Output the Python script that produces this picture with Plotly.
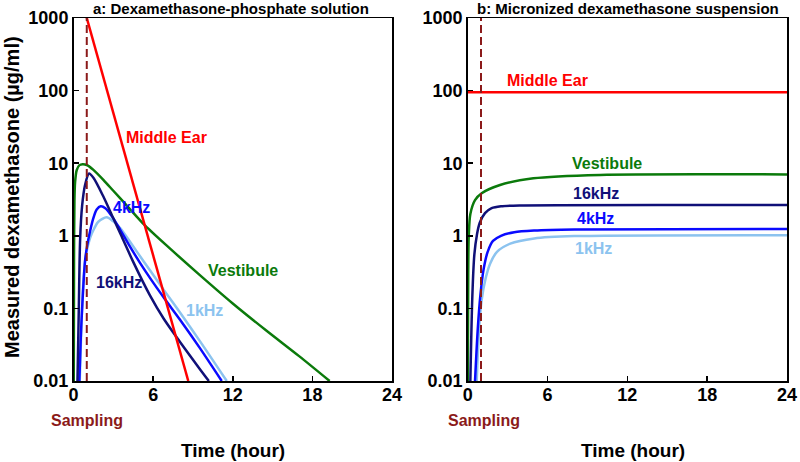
import plotly.graph_objects as go

# ---------------- data ----------------
# Panel a: Dexamethasone-phosphate solution
a_mid_t = [1.0, 8.65]
a_mid_v = [1000, 0.01]

a_ves_t = [0.02, 0.04, 0.07, 0.12, 0.24, 0.45, 0.69, 1.0, 1.5, 2.25, 3.0, 4.0, 5.4, 7.3, 9.5, 12.0, 14.5, 17.0, 19.3]
a_ves_v = [0.01, 0.5, 3.0, 5.5, 8.0, 9.4, 9.7, 9.45, 8.1, 5.9, 4.17, 2.63, 1.38, 0.66, 0.29, 0.117, 0.05, 0.022, 0.01]

a_16k_t = [0.3, 0.4, 0.5, 0.65, 0.87, 1.17, 1.5, 2.25, 3.0, 3.5, 4.5, 5.76, 6.8, 8.0, 9.5, 10.2]
a_16k_v = [0.01, 0.1, 0.9, 2.6, 5.0, 7.2, 6.3, 3.47, 1.74, 1.1, 0.437, 0.151, 0.072, 0.035, 0.0148, 0.01]

a_4k_t = [0.44, 0.55, 0.65, 0.87, 1.04, 1.24, 1.49, 1.75, 2.05, 2.4, 3.0, 3.5, 4.26, 5.0, 5.76, 6.8, 8.0, 9.5, 11.17]
a_4k_v = [0.01, 0.04, 0.1, 0.45, 0.75, 1.14, 1.74, 2.3, 2.55, 2.4, 1.74, 1.23, 0.71, 0.427, 0.263, 0.141, 0.0708, 0.0288, 0.01]

a_1k_t = [0.47, 0.6, 0.75, 0.94, 1.24, 1.55, 1.87, 2.5, 3.0, 3.5, 4.26, 4.76, 5.76, 6.8, 8.0, 9.5, 11.55]
a_1k_v = [0.01, 0.06, 0.25, 0.55, 0.92, 1.25, 1.56, 1.8, 1.58, 1.29, 0.83, 0.61, 0.335, 0.18, 0.089, 0.036, 0.01]

# Panel b: Micronized dexamethasone suspension
b_mid_t = [0.0, 24.0]
b_mid_v = [95, 95]

b_ves_t = [0.01, 0.04, 0.08, 0.2, 0.55, 1.05, 2.43, 4.94, 9.95, 24.0]
b_ves_v = [0.01, 0.3, 1.0, 2.0, 3.1, 3.85, 5.0, 6.2, 6.9, 7.0]

b_16k_t = [0.2, 0.35, 0.5, 0.7, 0.9, 1.3, 1.8, 2.5, 4.0, 24.0]
b_16k_v = [0.01, 0.15, 0.55, 1.05, 1.5, 2.05, 2.4, 2.55, 2.62, 2.65]

b_4k_t = [0.55, 0.75, 0.95, 1.2, 1.5, 1.9, 2.5, 3.5, 5.0, 8.0, 24.0]
b_4k_v = [0.01, 0.05, 0.15, 0.35, 0.6, 0.85, 1.0, 1.12, 1.18, 1.22, 1.24]

b_1k_t = [0.68, 0.85, 1.05, 1.35, 1.7, 2.2, 3.2, 5.0, 8.0, 24.0]
b_1k_v = [0.01, 0.05, 0.13, 0.26, 0.42, 0.6, 0.78, 0.92, 0.99, 1.02]

sampling_t = [1.0, 1.0]
sampling_v = [0.01, 1000]

x_ticks = [0, 6, 12, 18, 24]
y_ticks = [0.01, 0.1, 1, 10, 100, 1000]
y_ticktext = ["0.01", "0.1", "1", "10", "100", "1000"]

titles = ["a: Dexamethasone-phosphate solution", "b: Micronized dexamethasone suspension"]

# ---------------- styling ----------------
RED = "#ff0000"
GREEN = "#0b7a0b"
NAVY = "#101078"
BLUE = "#0a0aff"
LBLUE = "#8cc3ef"
MAROON = "#8b1a1a"
FONT = "Liberation Sans, Arial, sans-serif"

W, H = 800, 462

fig = go.Figure()


def add_line(t, v, color, ax, dash=None, width=2.5, spline=True):
    line = dict(color=color, width=width)
    if spline:
        line.update(shape="spline", smoothing=0.8)
    if dash:
        line["dash"] = dash
    fig.add_trace(go.Scatter(x=t, y=v, mode="lines", line=line, showlegend=False,
                             hoverinfo="skip",
                             xaxis="x" if ax == 1 else "x2",
                             yaxis="y" if ax == 1 else "y2"))


for ax, series in [
    (1, [(a_ves_t, a_ves_v, GREEN), (a_1k_t, a_1k_v, LBLUE), (a_4k_t, a_4k_v, BLUE),
         (a_16k_t, a_16k_v, NAVY)]),
    (2, [(b_ves_t, b_ves_v, GREEN), (b_1k_t, b_1k_v, LBLUE), (b_4k_t, b_4k_v, BLUE),
         (b_16k_t, b_16k_v, NAVY)]),
]:
    for t, v, c in series:
        add_line(t, v, c, ax)

add_line(a_mid_t, a_mid_v, RED, 1, spline=False)
add_line(b_mid_t, b_mid_v, RED, 2, spline=False)
add_line(sampling_t, sampling_v, MAROON, 1, dash="8px,4px", width=2, spline=False)
add_line(sampling_t, sampling_v, MAROON, 2, dash="8px,4px", width=2, spline=False)

# pixel geometry
y_top, y_bot = 18, 381
xa = (73.5, 392.0)
xb = (467.7, 787.0)


def px(x):
    return x / W


def py(y):
    return 1 - y / H


axis_common = dict(showline=True, mirror=True, linecolor="black", linewidth=1.5,
                   ticks="inside", ticklen=5, tickwidth=1.5, tickcolor="black",
                   showgrid=False, zeroline=False, automargin=False,
                   tickfont=dict(family=FONT, size=18, color="black", weight="bold"))

fig.update_layout(
    width=W, height=H,
    margin=dict(l=0, r=0, t=0, b=0, autoexpand=False),
    paper_bgcolor="white", plot_bgcolor="white",
    xaxis=dict(domain=[px(xa[0]), px(xa[1])], range=[0, 24], tickvals=x_ticks,
               anchor="y", ticklabelstandoff=-3, **axis_common),
    yaxis=dict(domain=[py(y_bot), py(y_top)], type="log", range=[-2, 3],
               tickvals=y_ticks, ticktext=y_ticktext, anchor="x", **axis_common),
    xaxis2=dict(domain=[px(xb[0]), px(xb[1])], range=[0, 24], tickvals=x_ticks,
                anchor="y2", ticklabelstandoff=-3, **axis_common),
    yaxis2=dict(domain=[py(y_bot), py(y_top)], type="log", range=[-2, 3],
                tickvals=y_ticks, ticktext=y_ticktext, anchor="x2", **axis_common),
)


def ann(text, x, y, size, color="black", angle=0):
    fig.add_annotation(text=text, x=px(x), y=py(y), xref="paper", yref="paper",
                       showarrow=False, xanchor="center", yanchor="middle",
                       textangle=angle,
                       font=dict(family=FONT, size=size, color=color, weight="bold"))


ann(titles[0], 231, 9, 15)
ann(titles[1], 627.5, 9, 15)
ann("Measured dexamethasone (µg/ml)", 12, 197, 20, angle=-90)
ann("Time (hour)", 232.5, 450, 19)
ann("Time (hour)", 633, 450, 19)
ann("Sampling", 87, 420, 16, MAROON)
ann("Sampling", 484, 420, 16, MAROON)

# in-plot series labels, panel a
ann("Middle Ear", 166, 137, 16, RED)
ann("4kHz", 131, 207, 16, BLUE)
ann("16kHz", 119, 282, 16, NAVY)
ann("1kHz", 204, 310, 16, LBLUE)
ann("Vestibule", 243, 270, 16, GREEN)
# panel b
ann("Middle Ear", 547, 80, 16, RED)
ann("Vestibule", 607, 163, 16, GREEN)
ann("16kHz", 596, 193, 16, NAVY)
ann("4kHz", 595, 218, 16, BLUE)
ann("1kHz", 593, 248, 16, LBLUE)

fig.write_html("out.html",
               config={"displayModeBar": False, "staticPlot": True},
               post_script="document.body.style.margin='0';"
                           "document.body.style.overflow='hidden';")
